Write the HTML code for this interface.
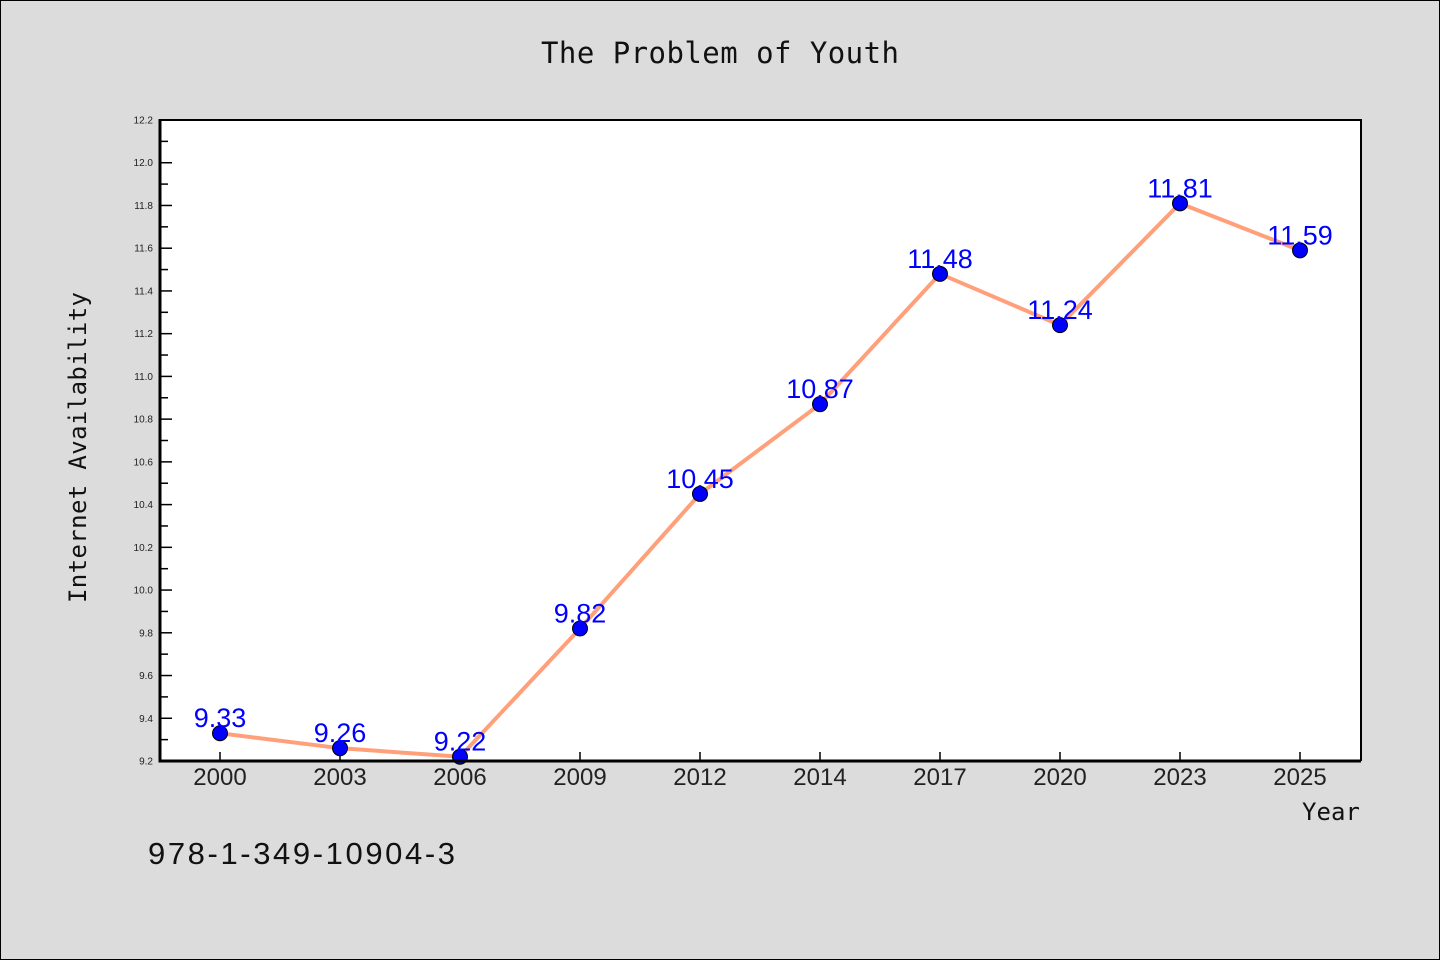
<!DOCTYPE html>
<html><head><meta charset="utf-8"><style>
body{margin:0;background:#dcdcdc;}
svg{display:block;font-family:"Liberation Sans","WenQuanYi Zen Hei","DejaVu Sans",sans-serif;}
</style></head><body>
<svg id="chart" width="1440" height="960" viewBox="0 0 1440 960">
<rect x="0.5" y="0.5" width="1439" height="959" fill="#dcdcdc" stroke="#000" stroke-width="1"/>
<text x="541" y="63" textLength="358" font-size="29" font-family="DejaVu Sans Mono, monospace" fill="#111">The Problem of Youth</text>
<rect x="160" y="120" width="1201" height="641" fill="#fff"/>
<g id="yaxis"></g><g id="xaxis"></g><g id="series"></g>
<path d="M160 119 V761 H1361" fill="none" stroke="#000" stroke-width="3"/>
<path d="M160 120 H1361 V761" fill="none" stroke="#000" stroke-width="2"/>
<text x="86" y="603" transform="rotate(-90 86 603)" textLength="311" font-size="24" font-family="DejaVu Sans Mono, monospace" fill="#111">Internet Availability</text>
<text x="1302" y="820" textLength="58" font-size="24" font-family="DejaVu Sans Mono, monospace" fill="#111">Year</text>
<text x="148" y="864" textLength="307" font-size="31" font-family="WenQuanYi Zen Hei, Liberation Sans, sans-serif" fill="#111">978-1-349-10904-3</text>
</svg>
<script>
const categories=["2000","2003","2006","2009","2012","2014","2017","2020","2023","2025"];
const values=[9.33,9.26,9.22,9.82,10.45,10.87,11.48,11.24,11.81,11.59];
const valueLabels=["9.33","9.26","9.22","9.82","10.45","10.87","11.48","11.24","11.81","11.59"];
const yTicks=[9.2,9.4,9.6,9.8,10.0,10.2,10.4,10.6,10.8,11.0,11.2,11.4,11.6,11.8,12.0,12.2];
const NS="http://www.w3.org/2000/svg";
const yMin=9.2,yMax=12.2,plotTop=120,plotBot=761;
function yScale(v){return plotBot-(v-yMin)/(yMax-yMin)*(plotBot-plotTop);}
function xScale(i){return 220+i*120;}
function mk(t,a,p){const e=document.createElementNS(NS,t);for(const k in a)e.setAttribute(k,a[k]);p.appendChild(e);return e;}
const ya=document.getElementById('yaxis'),xa=document.getElementById('xaxis'),se=document.getElementById('series');
yTicks.forEach((v,i)=>{
 const l=mk('line',{x1:160,x2:172,y1:yScale(v),y2:yScale(v),stroke:'#000','stroke-width':1.5},ya);
 
 
 if(i<yTicks.length-1){const m=mk('line',{x1:160,x2:168,y1:yScale(v+0.1),y2:yScale(v+0.1),stroke:'#000','stroke-width':1.5},ya);
 
 }
 const t=mk('text',{x:153,y:yScale(v)+3.5,'text-anchor':'end','font-size':10,fill:'#222'},ya);
 t.textContent=v.toFixed(1);
 
 
});
categories.forEach((c,i)=>{
 const l=mk('line',{x1:xScale(i),x2:xScale(i),y1:761,y2:752,stroke:'#000','stroke-width':1.5},xa);
 
 
 const t=mk('text',{x:xScale(i),y:785,'text-anchor':'middle','font-size':24,'font-family':'WenQuanYi Zen Hei, Liberation Sans, sans-serif',fill:'#222'},xa);
 t.textContent=c;
 
 
});
const pl=mk('polyline',{points:values.map((v,i)=>xScale(i)+','+yScale(v)).join(' '),fill:'none',stroke:'#ffa07a','stroke-width':4},se);


values.forEach((v,i)=>{
 const c=mk('circle',{cx:xScale(i),cy:yScale(v),r:7.5,fill:'#0000ff',stroke:'#000','stroke-width':1},se);
 
 
 const t=mk('text',{x:xScale(i),y:yScale(v)-6,'text-anchor':'middle','font-size':27,'font-family':'WenQuanYi Zen Hei, Liberation Sans, sans-serif',fill:'#0000ff'},se);
 t.textContent=valueLabels[i];
 
 
});
</script>
</body></html>
